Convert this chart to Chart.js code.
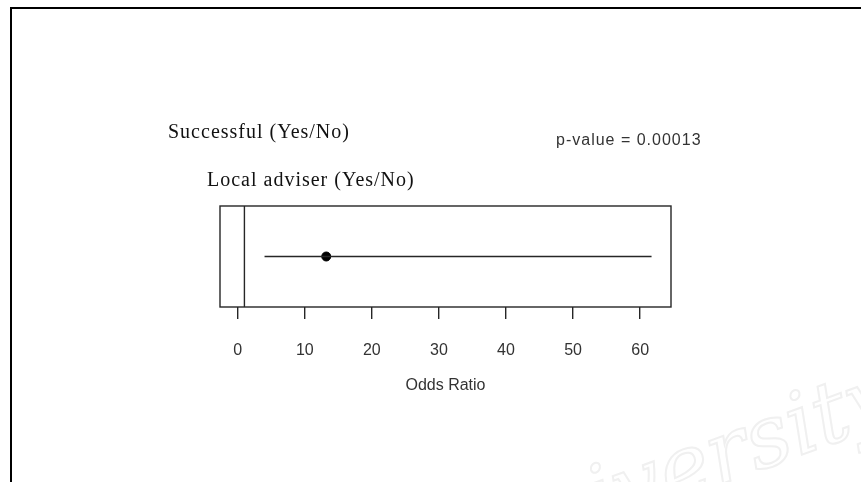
<!DOCTYPE html>
<html>
<head>
<meta charset="utf-8">
<script src="https://cdn.jsdelivr.net/npm/chart.js@4.4.1/dist/chart.umd.min.js"></script>
<style>
body { margin: 0; background: #fff; }
</style>
</head>
<body>
<canvas id="forest" width="861" height="482"></canvas>
<script>
// forest plot data
const header = 'Successful (Yes/No)';
const rowLabels = ['Local adviser (Yes/No)'];
const oddsRatio = [13.2];
const ciLower = [4.0];
const ciUpper = [61.7];
const pValues = ['0.00013'];
const xTicks = [0, 10, 20, 30, 40, 50, 60];
const refLine = 1;

const ink = '#262626';

const frame = {
    id: 'frame',
    beforeDraw(chart) {
        const ctx = chart.ctx;
        ctx.save();
        // faint watermark
        ctx.translate(760, 470);
        ctx.rotate(-0.35);
        ctx.font = 'italic 86px "DejaVu Serif"';
        ctx.strokeStyle = '#f0f0f0';
        ctx.lineWidth = 2;
        ctx.strokeText('University', -300, 0);
        ctx.restore();
    },
    afterDraw(chart) {
        const ctx = chart.ctx;
        const a = chart.chartArea;
        ctx.save();
        // outer image border
        ctx.fillStyle = '#000';
        ctx.fillRect(10, 7, 851, 2);
        ctx.fillRect(10, 7, 2, 475);
        // plot box
        ctx.strokeStyle = ink;
        ctx.lineWidth = 1.4;
        ctx.strokeRect(a.left, a.top, a.right - a.left, a.bottom - a.top);
        // texts
        ctx.fillStyle = '#111';
        ctx.textBaseline = 'alphabetic';
        ctx.letterSpacing = '1px';
        ctx.font = '20px "Liberation Serif"';
        ctx.fillText(header, 168, 138);
        rowLabels.forEach((l, i) => ctx.fillText(l, 207, 186 + i * 40));
        ctx.fillStyle = '#333';
        ctx.font = '16px "Liberation Sans"';
        ctx.fillText('p-value = ' + pValues[0], 556, 145);
        ctx.restore();
    }
};

new Chart(document.getElementById('forest'), {
    type: 'scatter',
    data: {
        datasets: [{
            data: [{x: refLine, y: 0}, {x: refLine, y: 2}],
            showLine: true,
            borderColor: ink,
            borderWidth: 1.4,
            pointRadius: 0
        }, {
            data: oddsRatio.map((v, i) => [{x: ciLower[i], y: i + 1}, {x: ciUpper[i], y: i + 1}]).flat(),
            showLine: true,
            borderColor: ink,
            borderWidth: 1.4,
            pointRadius: 0
        }, {
            data: oddsRatio.map((v, i) => ({x: v, y: i + 1})),
            pointRadius: 4.5,
            pointBackgroundColor: '#000',
            pointBorderColor: '#000'
        }]
    },
    options: {
        responsive: false,
        animation: false,
        layout: {
            padding: {left: 220, right: 190, top: 206, bottom: 0}
        },
        plugins: {
            legend: {display: false},
            tooltip: {enabled: false}
        },
        scales: {
            x: {
                type: 'linear',
                min: -2.64,
                max: 64.6,
                afterBuildTicks: s => { s.ticks = xTicks.map(v => ({value: v})); },
                afterFit: s => { s.height = 175; },
                border: {display: false},
                grid: {
                    drawOnChartArea: false,
                    tickLength: 12,
                    color: ink,
                    lineWidth: 1.4
                },
                ticks: {
                    color: '#333',
                    padding: 22,
                    maxRotation: 0,
                    font: {size: 16, family: 'Liberation Sans'}
                },
                title: {
                    display: true,
                    text: 'Odds Ratio',
                    color: '#333',
                    font: {size: 16, family: 'Liberation Sans'},
                    padding: {top: 0, bottom: 87}
                }
            },
            y: {
                display: false,
                min: 0,
                max: 2
            }
        }
    },
    plugins: [frame]
});
</script>
</body>
</html>
